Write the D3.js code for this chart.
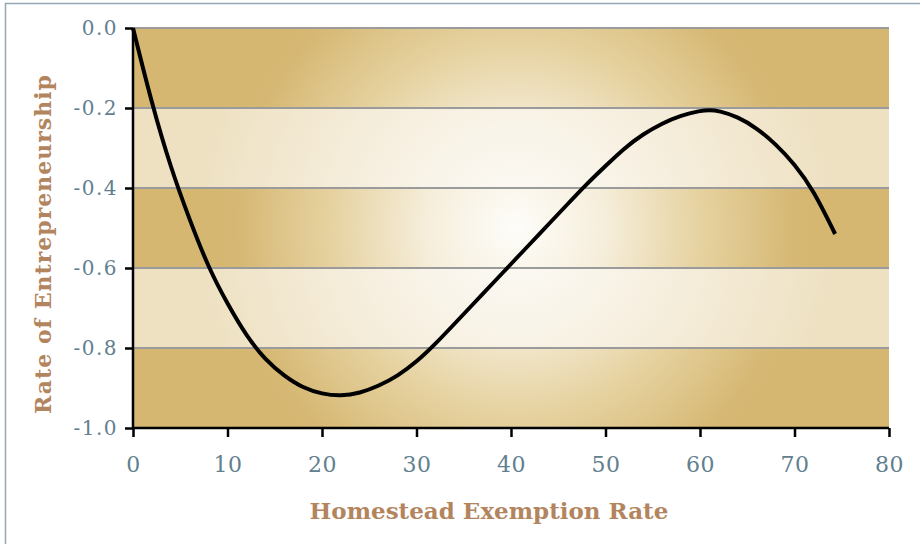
<!DOCTYPE html>
<html>
<head>
<meta charset="utf-8">
<script src="https://cdn.jsdelivr.net/npm/d3@7"></script>
<style>
  body { margin: 0; background: #fff; }
</style>
</head>
<body>
<script>
// curve
var rateX = [0, 2, 4, 6, 8, 10, 12, 14, 16, 18, 20, 22, 24, 26, 28, 30, 32, 34, 36, 38, 40,
             42, 44, 46, 48, 50, 52, 54, 56, 58, 60, 61, 62, 64, 66, 68, 70, 72, 74.3];
var rateY = [0, -0.19, -0.35, -0.48, -0.60, -0.69, -0.77, -0.83, -0.87, -0.90, -0.915, -0.92, -0.913, -0.895, -0.87, -0.835, -0.79, -0.74, -0.69, -0.64, -0.59,
             -0.54, -0.49, -0.44, -0.39, -0.345, -0.30, -0.265, -0.238, -0.218, -0.207, -0.205, -0.207, -0.222, -0.25, -0.29, -0.34, -0.405, -0.515];
var xTicks = [0, 10, 20, 30, 40, 50, 60, 70, 80];
var yTicks = [0, -0.2, -0.4, -0.6, -0.8, -1.0];

var xTitle = "Homestead Exemption Rate";
var yTitle = "Rate of Entrepreneurship";

var margin = { top: 28, right: 31, bottom: 116, left: 133 };
var width = 920 - margin.left - margin.right;
var height = 544 - margin.top - margin.bottom;

var data = rateX.map(function (d, i) { return { x: d, y: rateY[i] }; });

var x = d3.scaleLinear().domain([0, 80]).range([0, width]);
var y = d3.scaleLinear().domain([-1, 0]).range([height, 0]);

var root = d3.select("body").append("svg")
    .attr("width", 920)
    .attr("height", 544);

// outer frame (top and left edges visible)
root.append("path")
    .attr("d", "M5.5,544 V3.5 H920")
    .attr("fill", "none")
    .attr("stroke", "#93a6b3")
    .attr("stroke-width", 1.5);

var defs = root.append("defs");
var cx = x(40.5), cy = y(-0.5);

var darkGrad = defs.append("radialGradient")
    .attr("id", "darkGrad")
    .attr("gradientUnits", "userSpaceOnUse")
    .attr("cx", cx).attr("cy", cy).attr("r", 300);
darkGrad.append("stop").attr("offset", 0).attr("stop-color", "#fefdfa");
darkGrad.append("stop").attr("offset", 0.3).attr("stop-color", "#f6eedb");
darkGrad.append("stop").attr("offset", 0.62).attr("stop-color", "#e6d2a0");
darkGrad.append("stop").attr("offset", 0.93).attr("stop-color", "#d6b874");
darkGrad.append("stop").attr("offset", 1).attr("stop-color", "#d5b772");

var lightGrad = defs.append("radialGradient")
    .attr("id", "lightGrad")
    .attr("gradientUnits", "userSpaceOnUse")
    .attr("cx", cx).attr("cy", cy).attr("r", 320);
lightGrad.append("stop").attr("offset", 0).attr("stop-color", "#fdfcf9");
lightGrad.append("stop").attr("offset", 0.45).attr("stop-color", "#f7f0e1");
lightGrad.append("stop").attr("offset", 1).attr("stop-color", "#eee1c2");

var svg = root.append("g")
    .attr("transform", "translate(" + margin.left + "," + margin.top + ")");

// alternating bands between ticks
var bands = d3.pairs(yTicks);
svg.append("g").attr("class", "bands")
    .selectAll("rect")
    .data(bands)
    .enter().append("rect")
    .attr("x", 0)
    .attr("y", function (d) { return y(d[0]); })
    .attr("width", width)
    .attr("height", function (d) { return y(d[1]) - y(d[0]); })
    .attr("fill", function (d, i) { return i % 2 === 0 ? "url(#darkGrad)" : "url(#lightGrad)"; });

// grid lines
svg.append("g").attr("class", "grid")
    .selectAll("line")
    .data(yTicks.slice(0, -1))
    .enter().append("line")
    .attr("x1", 0)
    .attr("x2", width)
    .attr("y1", function (d) { return y(d); })
    .attr("y2", function (d) { return y(d); })
    .attr("stroke", "#9b9b9b")
    .attr("stroke-width", 2);

// curve
var line = d3.line()
    .x(function (d) { return x(d.x); })
    .y(function (d) { return y(d.y); })
    .curve(d3.curveBasis);

svg.append("path")
    .datum(data)
    .attr("fill", "none")
    .attr("stroke", "#000")
    .attr("stroke-width", 4)
    .attr("stroke-linejoin", "round")
    .attr("d", line);

// axes
var yAxis = svg.append("g")
    .call(d3.axisLeft(y).tickValues(yTicks).tickSize(8).tickPadding(7)
        .tickFormat(d3.format(".1f")));

var xAxis = svg.append("g")
    .attr("transform", "translate(0," + height + ")")
    .call(d3.axisBottom(x).tickValues(xTicks).tickSize(9).tickPadding(19));

[xAxis, yAxis].forEach(function (a) {
    a.select(".domain").attr("stroke", "#000").attr("stroke-width", 2.5);
    a.selectAll(".tick line").attr("stroke", "#000").attr("stroke-width", 2.5);
    a.selectAll(".tick text")
        .attr("fill", "#62808f")
        .style("font-family", "'DejaVu Serif', serif");
});
yAxis.selectAll(".tick text").style("font-size", "20px").style("letter-spacing", "1.5px");
xAxis.selectAll(".tick text").style("font-size", "22px").style("letter-spacing", "0.5px");
yAxis.select(".domain").attr("d", "M0," + height + "V0");
xAxis.select(".domain").attr("d", "M0,0H" + width);
// plain hyphen for the minus sign, as in the reference
yAxis.selectAll(".tick text").text(function (d) { return d3.format(".1f")(d).replace("\u2212", "-"); });

// axis titles
svg.append("text")
    .attr("x", width / 2 - 22)
    .attr("y", height + 91)
    .attr("text-anchor", "middle")
    .attr("fill", "#b3855e")
    .style("font-family", "'DejaVu Serif', serif")
    .style("font-weight", "bold")
    .style("font-size", "23px")
    .text(xTitle);

svg.append("text")
    .attr("transform", "translate(" + (-82) + "," + (height / 2 + 16) + "),rotate(-90)")
    .attr("text-anchor", "middle")
    .attr("fill", "#b3855e")
    .style("font-family", "'DejaVu Serif', serif")
    .style("font-weight", "bold")
    .style("font-size", "22px")
    .style("letter-spacing", "1px")
    .text(yTitle);
</script>
</body>
</html>
